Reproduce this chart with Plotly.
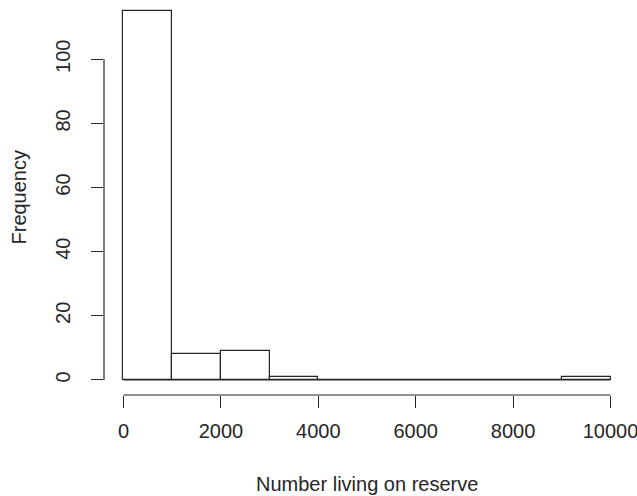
import plotly.graph_objects as go

# Histogram of the number of people living on each reserve
bin_edges = [0, 1000, 2000, 3000, 4000, 5000, 6000, 7000, 8000, 9000, 10000]
counts = [115, 8, 9, 1, 0, 0, 0, 0, 0, 1]

x_ticks = [0, 2000, 4000, 6000, 8000, 10000]
y_ticks = [0, 20, 40, 60, 80, 100]

x_title = "Number living on reserve"
y_title = "Frequency"

INK = "#262626"
FONT = dict(family="Liberation Sans, Arial, sans-serif", size=20, color=INK)

mids = [(a + b) / 2 for a, b in zip(bin_edges[:-1], bin_edges[1:])]
widths = [b - a for a, b in zip(bin_edges[:-1], bin_edges[1:])]

fig = go.Figure()
fig.add_trace(go.Bar(
    x=mids, y=counts, width=widths,
    marker=dict(color="white", line=dict(color=INK, width=1.2)),
    hoverinfo="skip",
))

# baseline under empty bins
fig.add_shape(type="line", xref="x", yref="y",
              x0=bin_edges[0], x1=bin_edges[-1], y0=0, y1=0,
              line=dict(color=INK, width=1.2))
# axis lines spanning first to last tick
fig.add_shape(type="line", xref="x", yref="paper",
              x0=x_ticks[0], x1=x_ticks[-1], y0=0, y1=0,
              line=dict(color=INK, width=1.2))
fig.add_shape(type="line", xref="paper", yref="y",
              x0=0, x1=0, y0=y_ticks[0], y1=y_ticks[-1],
              line=dict(color=INK, width=1.2))

fig.add_annotation(text=x_title, xref="paper", yref="paper", x=0.5, y=0,
                   yshift=-89, yanchor="middle", showarrow=False, font=FONT)
fig.add_annotation(text=y_title, xref="paper", yref="paper", x=0, y=0.5,
                   xshift=-86, xanchor="center", textangle=-90,
                   showarrow=False, font=FONT)

fig.update_layout(
    width=637, height=496,
    margin=dict(l=104, r=7, t=0, b=101),
    paper_bgcolor="white", plot_bgcolor="white",
    showlegend=False, bargap=0,
    font=FONT,
)
fig.update_xaxes(
    range=[-400, 10400], tickvals=x_ticks, ticktext=[str(v) for v in x_ticks],
    ticks="outside", ticklen=12, tickwidth=1.2, tickcolor=INK,
    showgrid=False, zeroline=False, showline=False,
    ticklabelstandoff=6, ticklabeloverflow="allow", tickfont=FONT,
)
fig.update_yaxes(
    range=[-4.7, 118.5], tickvals=y_ticks, ticktext=[str(v) for v in y_ticks],
    ticks="outside", ticklen=12, tickwidth=1.2, tickcolor=INK,
    showgrid=False, zeroline=False, showline=False,
    tickangle=-90, ticklabelstandoff=13, tickfont=FONT,
)

fig.write_html("out.html")
